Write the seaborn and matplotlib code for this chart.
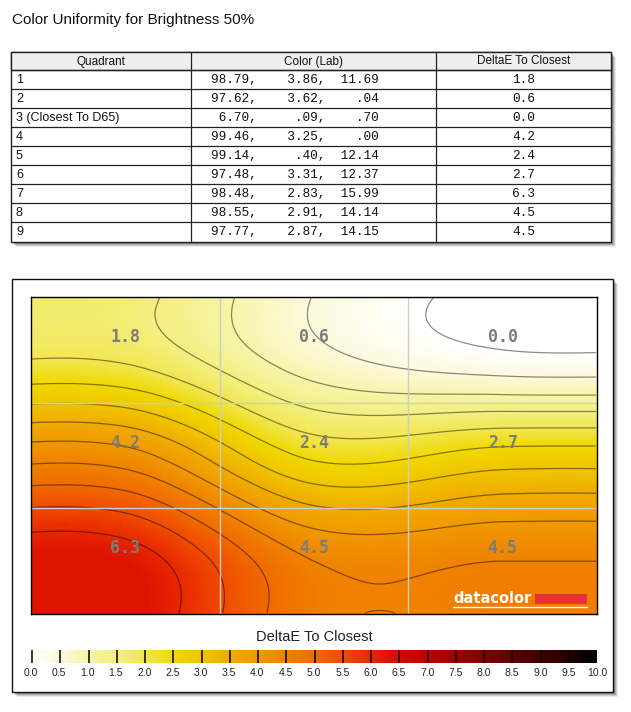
import numpy as np
import pandas as pd
import matplotlib
matplotlib.use("Agg")
import matplotlib.pyplot as plt
import seaborn as sns
from matplotlib.colors import LinearSegmentedColormap
from matplotlib.patches import Rectangle

sns.set_theme(style="white")
plt.rcParams['font.family'] = ['Liberation Sans', 'DejaVu Sans']

# data
title = "Color Uniformity for Brightness 50%"
quadrants = ["1", "2", "3 (Closest To D65)", "4", "5", "6", "7", "8", "9"]
lab_L = [98.79, 97.62, 6.70, 99.46, 99.14, 97.48, 98.48, 98.55, 97.77]
lab_a = [3.86, 3.62, 0.09, 3.25, 0.40, 3.31, 2.83, 2.91, 2.87]
lab_b = [11.69, 0.04, 0.70, 0.00, 12.14, 12.37, 15.99, 14.14, 14.15]
delta_e = [1.8, 0.6, 0.0, 4.2, 2.4, 2.7, 6.3, 4.5, 4.5]
headers = ["Quadrant", "Color (Lab)", "DeltaE To Closest"]
cbar_label = "DeltaE To Closest"
cbar_ticks = np.arange(0, 10.01, 0.5)
cmap_colors = ["#ffffff", "#fcf9da", "#f7f4a8", "#f3ef80", "#f1e650", "#f0d800",
               "#f0c400", "#f0ac00", "#f09800", "#f08200", "#f06a00", "#f04c00",
               "#e82800", "#d80800", "#c00000", "#a00000", "#800000", "#600000",
               "#420000", "#240000", "#000000"]

df = pd.DataFrame({"QUADRANT": quadrants, "L": lab_L, "A": lab_a, "B": lab_b, "DE": delta_e})
grid = np.array(delta_e).reshape(3, 3)
cmap = LinearSegmentedColormap.from_list("de", list(zip(np.linspace(0, 1, len(cmap_colors)), cmap_colors)))


def catmull_rom(vals, t):
    # cubic resampling of the 3 cell centres, edges clamped
    v = np.asarray(vals, float)
    pos = t - 0.5
    idx = np.floor(pos).astype(int)
    s = pos - idx
    P = lambda i: v[np.clip(i, 0, len(v) - 1)]
    p0, p1 = P(idx), P(idx + 1)
    m0 = (P(idx + 1) - P(idx - 1)) / 2
    m1 = (P(idx + 2) - P(idx)) / 2
    h00 = 2 * s**3 - 3 * s**2 + 1
    h10 = s**3 - 2 * s**2 + s
    h01 = -2 * s**3 + 3 * s**2
    h11 = s**3 - s**2
    return h00 * p0 + h10 * m0 + h01 * p1 + h11 * m1


ny, nx = 160, 285
ty = (np.arange(ny) + 0.5) / ny * 3
tx = (np.arange(nx) + 0.5) / nx * 3
cols = np.column_stack([catmull_rom(grid[:, j], ty) for j in range(3)])
field = np.vstack([catmull_rom(cols[r], tx) for r in range(ny)])
field = np.minimum(field, grid.max())


def fmt(v):
    s = f"{v:.2f}"
    return s[1:] if s.startswith("0.") else s


fig = plt.figure(figsize=(6.31, 7.12), dpi=100)
bg = fig.add_axes([0, 0, 1, 1])
bg.set_xlim(0, 631)
bg.set_ylim(712, 0)
bg.axis('off')

bg.text(12, 20, title, fontsize=11, va='center', color='#111111')

# table
for off, a in [(5, 0.08), (4, 0.12), (3, 0.16), (2, 0.2)]:
    bg.add_patch(Rectangle((11 + off, 52 + off), 600, 190, color='black', alpha=a, lw=0, zorder=0))
bg.add_patch(Rectangle((11, 52), 600, 190, fc='white', ec='#222222', lw=1, zorder=1))
bg.add_patch(Rectangle((11, 52), 600, 18, fc='#efefef', ec='#222222', lw=1, zorder=1))
for i in range(9):
    bg.plot([11, 611], [70 + 19 * i, 70 + 19 * i], color='#222222', lw=0.9, zorder=2)
for x in [191, 436]:
    bg.plot([x, x], [52, 242], color='#222222', lw=0.9, zorder=2)
for x, h in zip([101, 313.5, 523.5], headers):
    bg.text(x, 61.5, h, fontsize=8.5, ha='center', va='center', color='#111111', zorder=3)
for i, row in df.iterrows():
    yc = 80 + 19 * i
    bg.text(16, yc, row.QUADRANT, fontsize=9, va='center', color='#111111', zorder=3)
    lab = f"{fmt(row.L):>5},{fmt(row.A):>8},{fmt(row.B):>7}"
    bg.text(211, yc, lab, fontsize=9.2, va='center', family='Liberation Mono', color='#111111', zorder=3)
    bg.text(523.5, yc, f"{row.DE:.1f}", fontsize=9.2, ha='center', va='center',
            family='Liberation Mono', color='#111111', zorder=3)

# chart panel
for off, a in [(5, 0.08), (4, 0.12), (3, 0.16), (2, 0.2)]:
    bg.add_patch(Rectangle((12 + off, 279 + off), 601, 413, color='black', alpha=a, lw=0, zorder=0))
bg.add_patch(Rectangle((12, 279), 601, 413, fc='white', ec='#111111', lw=1, zorder=1))
bg.text(314, 637, cbar_label, fontsize=10.5, ha='center', va='center', color='#222222', zorder=3)
for t in cbar_ticks:
    bg.text(31 + t / 10 * 566, 673, f"{t:.1f}", fontsize=7.5, ha='center', va='center',
            color='#222222', zorder=3)

ax = fig.add_axes([31 / 631, 1 - 614 / 712, 566 / 631, 317 / 712])
sns.heatmap(field, cmap=cmap, vmin=0, vmax=10, cbar=False, xticklabels=False,
            yticklabels=False, ax=ax, rasterized=True)
ax.contour(np.arange(nx) + 0.5, np.arange(ny) + 0.5, field, levels=np.arange(0, 10.01, 0.5),
           colors='black', alpha=0.45, linewidths=0.9)
for f in [1 / 3, 2 / 3]:
    ax.axvline(nx * f, color='#cccccc', lw=1)
    ax.axhline(ny * f, color='#cccccc', lw=1)
for idx, v in enumerate(delta_e):
    r, c = divmod(idx, 3)
    ax.text((c + 0.5) * nx / 3, (r + 0.38) * ny / 3, f"{v:.1f}", ha='center', va='center',
            fontsize=12, fontweight='bold', family='DejaVu Sans Mono', color='#7c7c7c')
for s in ax.spines.values():
    s.set_visible(True)
    s.set_color('black')
    s.set_linewidth(1)

# datacolor mark
ax.text(0.746, 0.026, "datacolor", transform=ax.transAxes, color='white', fontsize=10.5,
        fontweight='bold', family='DejaVu Sans', va='bottom', ha='left')
ax.add_patch(Rectangle((0.890, 0.03), 0.093, 0.032, transform=ax.transAxes, fc='#e8303a', lw=0))
ax.plot([0.746, 0.983], [0.021, 0.021], transform=ax.transAxes, color='white', lw=1)

# colour bar
cax = fig.add_axes([31 / 631, 1 - 663 / 712, 566 / 631, 13 / 712])
cax.imshow(np.linspace(0, 10, 600)[None, :], cmap=cmap, vmin=0, vmax=10, aspect='auto',
           extent=(0, 10, 0, 1))
cax.vlines(cbar_ticks, 0, 1, color='black', lw=1.1)
cax.set_xlim(-0.02, 10)
cax.axis('off')

fig.savefig("out.png", dpi=100)
